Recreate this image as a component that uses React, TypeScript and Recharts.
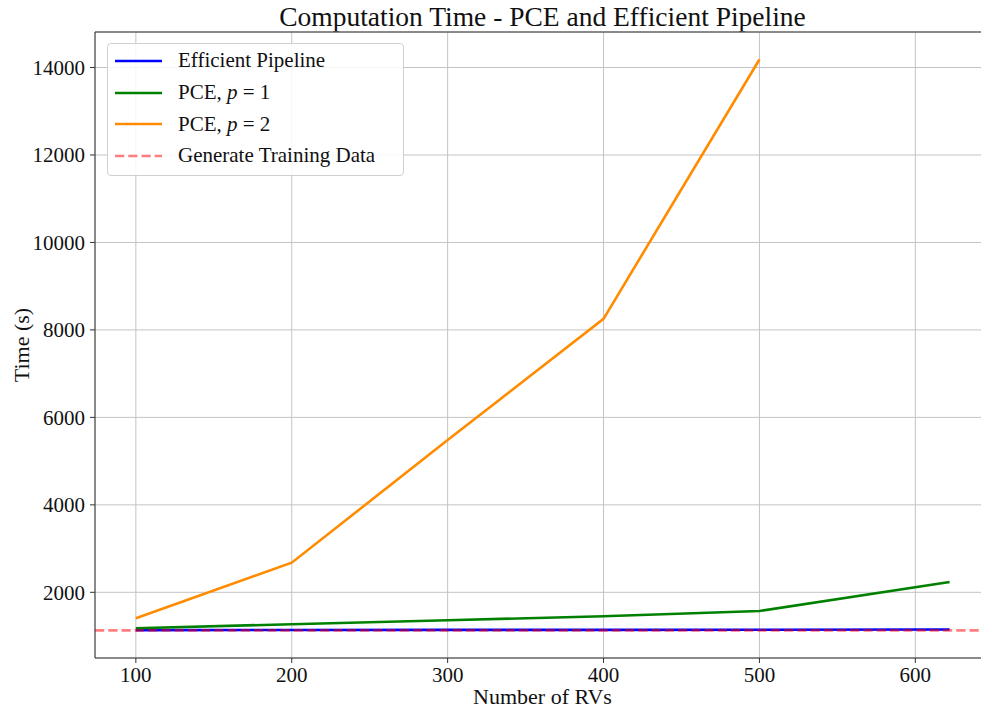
import React from "react";
import { LineChart, Line, XAxis, YAxis, CartesianGrid, ReferenceLine } from "recharts";

const rvs = [100, 200, 300, 400, 500, 622];
const efficientPipeline = [1135, 1138, 1140, 1142, 1145, 1150];
const pceP1 = [1177, 1270, 1361, 1452, 1573, 2235];
const pceP2: (number | null)[] = [1406, 2677, 5481, 8254, 14183, null];
const trainingDataTime = 1130;
const xTicks = [100, 200, 300, 400, 500, 600];
const yTicks = [2000, 4000, 6000, 8000, 10000, 12000, 14000];

const FONT = "'Liberation Serif', 'DejaVu Serif', serif";
const Y_MAX = 14812;

const data = rvs.map((n, i) => ({
  n,
  efficient: efficientPipeline[i],
  p1: pceP1[i],
  p2: pceP2[i],
}));

const legendItems = [
  { color: "#0000ff", dashed: false, label: <>Efficient Pipeline</> },
  { color: "#008000", dashed: false, label: <>PCE, <i>p</i> = 1</> },
  { color: "#ff8c00", dashed: false, label: <>PCE, <i>p</i> = 2</> },
  { color: "rgba(255,0,0,0.5)", dashed: true, label: <>Generate Training Data</> },
];

function LegendBox() {
  return (
    <div
      style={{
        position: "absolute",
        left: 107,
        top: 43,
        width: 297,
        height: 133,
        border: "1px solid #d0d0d0",
        borderRadius: 4,
        background: "rgba(255,255,255,0.85)",
        fontFamily: FONT,
        fontSize: 21,
        color: "#111",
        boxSizing: "border-box",
        paddingTop: 1,
      }}
    >
      {legendItems.map((it, i) => (
        <div key={i} style={{ height: 31.7, display: "flex", alignItems: "center" }}>
          <svg width={70} height={10} style={{ flexShrink: 0 }}>
            <line
              x1={7}
              x2={54}
              y1={5}
              y2={5}
              stroke={it.color}
              strokeWidth={2.6}
              strokeDasharray={it.dashed ? "9.25 4" : undefined}
            />
          </svg>
          <span style={{ whiteSpace: "nowrap" }}>{it.label}</span>
        </div>
      ))}
    </div>
  );
}

export default function App() {
  return (
    <div style={{ position: "absolute", left: 0, top: 0, width: 981, height: 711, overflow: "hidden", background: "#fff" }}>
      <div
        style={{
          position: "absolute",
          left: 95,
          width: 895,
          top: 1,
          textAlign: "center",
          fontFamily: FONT,
          fontSize: 27.5,
          lineHeight: "32px",
          color: "#111",
        }}
      >
        Computation Time - PCE and Efficient Pipeline
      </div>
      <LineChart width={1000} height={711} data={data} margin={{ top: 32, right: 10, bottom: 0, left: 0 }}>
        <CartesianGrid stroke="#c4c4c4" strokeWidth={1} />
        <XAxis
          dataKey="n"
          type="number"
          domain={[73.8, 647.9]}
          ticks={xTicks}
          height={53}
          tickSize={5}
          tickMargin={4}
          stroke="#333"
          tick={{ fill: "#111", fontFamily: FONT, fontSize: 21 }}
          allowDataOverflow
        />
        <YAxis
          type="number"
          domain={[498, Y_MAX]}
          ticks={yTicks}
          width={95}
          tickSize={5}
          tickMargin={5}
          stroke="#333"
          tick={{ fill: "#111", fontFamily: FONT, fontSize: 21 }}
          allowDataOverflow
        />
        <ReferenceLine y={Y_MAX} stroke="#333" strokeWidth={1} />
        <Line dataKey="efficient" stroke="#0000ff" strokeWidth={2.6} dot={false} isAnimationActive={false} />
        <Line dataKey="p1" stroke="#008000" strokeWidth={2.6} dot={false} isAnimationActive={false} />
        <Line dataKey="p2" stroke="#ff8c00" strokeWidth={2.6} dot={false} isAnimationActive={false} />
        <ReferenceLine
          y={trainingDataTime}
          stroke="#ff0000"
          strokeOpacity={0.5}
          strokeWidth={2.6}
          strokeDasharray="9.25 4"
        />
      </LineChart>
      <LegendBox />
      <div
        style={{
          position: "absolute",
          left: 95,
          width: 895,
          top: 683,
          textAlign: "center",
          fontFamily: FONT,
          fontSize: 22,
          lineHeight: "28px",
          color: "#111",
        }}
      >
        Number of RVs
      </div>
      <div
        style={{
          position: "absolute",
          left: 22,
          top: 345,
          transform: "translate(-50%, -50%) rotate(-90deg)",
          fontFamily: FONT,
          fontSize: 22,
          whiteSpace: "nowrap",
          color: "#111",
        }}
      >
        Time (s)
      </div>
    </div>
  );
}
